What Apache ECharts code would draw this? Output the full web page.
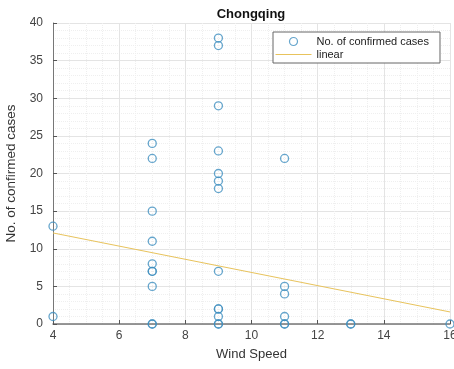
<!DOCTYPE html>
<html>
<head>
<meta charset="utf-8">
<script src="https://cdn.jsdelivr.net/npm/echarts@6/dist/echarts.min.js"></script>
<style>html,body{margin:0;padding:0;background:#fff;}#c{width:454px;height:369px;}</style>
</head>
<body>
<div id="c"></div>
<script>
var windSpeed = [4, 4, 7, 7, 7, 7, 7, 7, 7, 7, 7, 7, 9, 9, 9, 9, 9, 9, 9, 9, 9, 9, 9, 9, 9, 11, 11, 11, 11, 11, 11, 13, 13, 16];
var cases     = [13, 1, 24, 22, 15, 11, 8, 7, 7, 5, 0, 0, 38, 37, 29, 23, 20, 19, 18, 7, 2, 2, 1, 0, 0, 22, 5, 4, 1, 0, 0, 0, 0, 0];
var fitX = [4, 16];
var fitY = [12.1, 1.6];
var xTicks = [4, 6, 8, 10, 12, 14, 16];
var yTicks = [0, 5, 10, 15, 20, 25, 30, 35, 40];

var scatterData = windSpeed.map(function (x, i) { return [x, cases[i]]; });
var lineData = fitX.map(function (x, i) { return [x, fitY[i]]; });
var font = 'Liberation Sans, Arial, sans-serif';
var blue = '#3f8fbf', yellow = '#e8c35c';

var chart = echarts.init(document.getElementById('c'), null, {renderer: 'canvas'});
chart.setOption({
  animation: false,
  backgroundColor: '#fff',
  title: {
    text: 'Chongqing', left: 246, textAlign: 'center', top: 3,
    textStyle: {fontFamily: font, fontSize: 13, fontWeight: 'bold', color: '#111'}
  },
  legend: {
    orient: 'vertical', left: 273, top: 32,
    backgroundColor: '#fff', borderColor: '#666', borderWidth: 1, borderRadius: 0,
    padding: [4, 11, 3, 2], itemGap: 2, itemWidth: 36, itemHeight: 8,
    textStyle: {fontFamily: font, fontSize: 11, color: '#222'},
    data: [
      {name: 'No. of confirmed cases', icon: 'circle',
       itemStyle: {color: '#fff', borderColor: blue, borderWidth: 1.2}},
      {name: 'linear',
       itemStyle: {color: 'rgba(0,0,0,0)', borderColor: 'rgba(0,0,0,0)', borderWidth: 0, opacity: 0},
       lineStyle: {color: yellow, width: 1, opacity: 1}}
    ]
  },
  grid: {left: 53, top: 23, right: 4, bottom: 45, containLabel: false, outerBoundsMode: 'none'},
  xAxis: {
    type: 'value', min: 4, max: 16, interval: 2,
    name: 'Wind Speed', nameLocation: 'middle', nameGap: 24,
    nameTextStyle: {fontFamily: font, fontSize: 13, color: '#333'},
    axisLine: {show: true, onZero: false, lineStyle: {color: '#777', width: 1.5}},
    axisTick: {show: true, inside: true, length: 4, lineStyle: {color: '#555'}},
    axisLabel: {fontFamily: font, fontSize: 12, color: '#444', margin: 6, hideOverlap: false,
      formatter: function (v) { return xTicks.indexOf(v) >= 0 ? String(v) : ''; }},
    splitLine: {show: true, lineStyle: {color: '#e4e4e4', width: 1}},
    minorTick: {show: false, splitNumber: 4},
    minorSplitLine: {show: true, lineStyle: {color: '#efefef', type: 'dotted', width: 1}}
  },
  yAxis: {
    type: 'value', min: 0, max: 40, interval: 5,
    name: 'No. of confirmed cases', nameLocation: 'middle', nameGap: 35,
    nameTextStyle: {fontFamily: font, fontSize: 13.5, color: '#333'},
    axisLine: {show: true, lineStyle: {color: '#777', width: 1}},
    axisTick: {show: true, inside: true, length: 4, lineStyle: {color: '#555'}},
    axisLabel: {fontFamily: font, fontSize: 12, color: '#444', margin: 10,
      formatter: function (v) { return yTicks.indexOf(v) >= 0 ? String(v) : ''; }},
    splitLine: {show: true, lineStyle: {color: '#e4e4e4', width: 1}},
    minorTick: {show: false, splitNumber: 5},
    minorSplitLine: {show: true, lineStyle: {color: '#efefef', type: 'dotted', width: 1}}
  },
  series: [
    {
      name: 'No. of confirmed cases', type: 'scatter', symbol: 'circle', symbolSize: 8,
      data: scatterData, z: 3,
      itemStyle: {color: 'rgba(255,255,255,0)', borderColor: blue, borderWidth: 1.3}
    },
    {
      name: 'linear', type: 'line', data: lineData, symbol: 'none', showSymbol: false, z: 2,
      lineStyle: {color: yellow, width: 1}, itemStyle: {color: yellow}
    }
  ]
});
</script>
</body>
</html>
